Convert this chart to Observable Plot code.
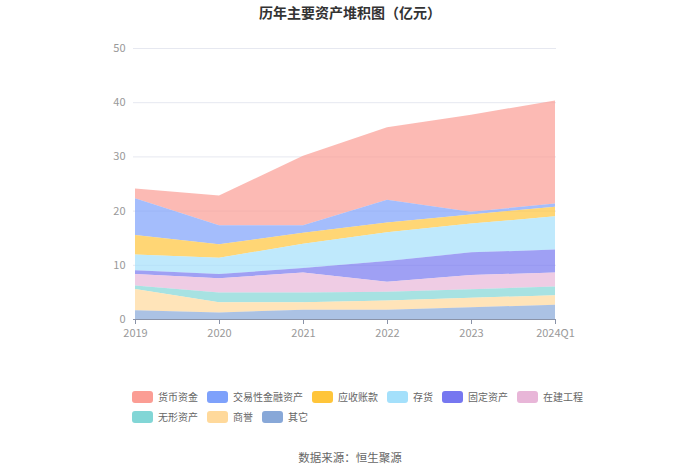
<!DOCTYPE html>
<html><head><meta charset="utf-8">
<script src="https://cdn.jsdelivr.net/npm/d3@7"></script>
<script src="https://cdn.jsdelivr.net/npm/@observablehq/plot@0.6"></script>
<style>
body{margin:0;width:700px;height:474px;position:relative;background:#fff;font-family:"Noto Sans CJK SC","Noto Sans",sans-serif;overflow:hidden}
#title{position:absolute;top:2px;left:0;width:700px;text-align:center;font-size:14px;font-weight:bold;color:#333}
#chart{position:absolute;top:0;left:0}
#legend{position:absolute;left:132px;top:388px;width:470px;display:flex;flex-wrap:wrap;column-gap:9px;row-gap:3px;font-size:10px;color:#666}
.item{display:flex;align-items:center;height:17px}
.sw{width:21px;height:12px;border-radius:3px;margin-right:5px}
#caption{position:absolute;top:449px;left:0;width:700px;text-align:center;font-size:11.5px;color:#666}
</style></head>
<body>
<div id="title">历年主要资产堆积图（亿元）</div>
<div id="chart"></div>
<div id="legend"></div>
<div id="caption">数据来源：恒生聚源</div>
<script>
const periods = ["2019","2020","2021","2022","2023","2024Q1"];
// legend order (top of stack first)
const seriesNames = ["货币资金","交易性金融资产","应收账款","存货","固定资产","在建工程","无形资产","商誉","其它"];
const seriesColors = ["#fb9d94","#7ea1fb","#ffc53a","#a4e0fb","#7677f0","#e8b6d8","#82d6d6","#ffd99b","#88a8d8"];
const 货币资金 = [1.8, 5.5, 12.8, 13.4, 17.9, 19.0];
const 交易性金融资产 = [6.8, 3.5, 1.4, 4.2, 0.5, 0.6];
const 应收账款 = [3.6, 2.5, 2.0, 1.8, 1.7, 1.75];
const 存货 = [2.9, 3.0, 4.5, 5.3, 5.3, 6.15];
const 固定资产 = [0.7, 0.8, 0.8, 3.85, 4.2, 4.2];
const 在建工程 = [2.1, 2.6, 3.7, 1.8, 2.6, 2.6];
const 无形资产 = [0.65, 1.8, 1.8, 1.65, 1.6, 1.6];
const 商誉 = [3.95, 1.9, 1.4, 1.7, 1.75, 1.75];
const 其它 = [1.6, 1.2, 1.7, 1.7, 2.15, 2.65];
const yTicks = [0, 10, 20, 30, 40, 50];

const valuesBy = {货币资金, 交易性金融资产, 应收账款, 存货, 固定资产, 在建工程, 无形资产, 商誉, 其它};
const rows = [];
seriesNames.forEach(s => periods.forEach((p, i) => rows.push({period: p, series: s, value: valuesBy[s][i]})));
const stackOrder = seriesNames.slice().reverse();

const chart = Plot.plot({
  width: 700, height: 345,
  marginLeft: 133, marginRight: 144, marginTop: 48, marginBottom: 26,
  style: {fontFamily: '"Noto Sans CJK SC","Noto Sans",sans-serif', fontSize: "11px", color: "#999", background: "transparent"},
  x: {type: "point", domain: periods, padding: 0, label: null},
  y: {domain: [0, 50], ticks: yTicks, label: null},
  color: {domain: seriesNames, range: seriesColors},
  marks: [
    Plot.gridY(yTicks, {stroke: "#e6e8f0", strokeOpacity: 1}),
    Plot.areaY(rows, {x: "period", y: "value", fill: "series", fillOpacity: 0.7, order: stackOrder, curve: "linear"}),
    Plot.ruleY([0], {stroke: "#8a93a8", strokeWidth: 1}),
    Plot.axisY(yTicks, {tickSize: 0, tickPadding: 8, fill: "#999", fontSize: 11}),
    Plot.axisX(periods, {tickSize: 5, stroke: "#8a93a8", tickPadding: 5, fill: "#999", fontSize: 11})
  ]
});
document.getElementById("chart").appendChild(chart);

const legend = document.getElementById("legend");
seriesNames.forEach((s, i) => {
  const it = document.createElement("div");
  it.className = "item";
  it.innerHTML = `<span class="sw" style="background:${seriesColors[i]}"></span><span>${s}</span>`;
  legend.appendChild(it);
});
</script>
</body></html>
